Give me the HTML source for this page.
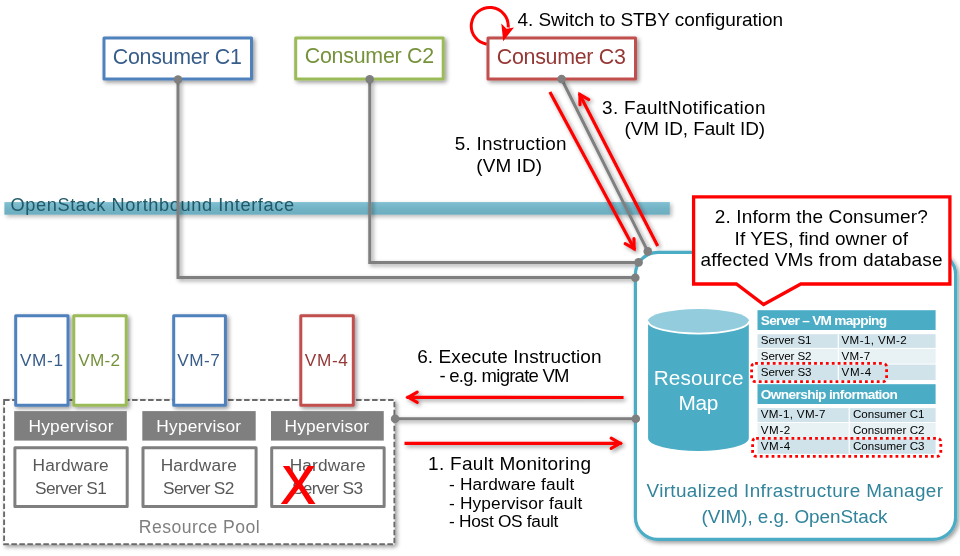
<!DOCTYPE html>
<html><head><meta charset="utf-8"><style>
html,body{margin:0;padding:0;background:#fff;width:960px;height:556px;overflow:hidden}
svg{display:block;font-family:"Liberation Sans", sans-serif;will-change:transform}
</style></head><body>
<svg width="960" height="556" viewBox="0 0 960 556">
<rect width="960" height="556" fill="#fff"/>
<defs>
<filter id="sh" x="-20%" y="-20%" width="140%" height="160%">
  <feGaussianBlur in="SourceAlpha" stdDeviation="2.2"/>
  <feOffset dx="1.6" dy="2.2" result="ob"/>
  <feComponentTransfer><feFuncA type="linear" slope="0.4"/></feComponentTransfer>
  <feMerge><feMergeNode/><feMergeNode in="SourceGraphic"/></feMerge>
</filter>
<filter id="sh2" x="-5%" y="-50%" width="110%" height="250%">
  <feGaussianBlur in="SourceAlpha" stdDeviation="2.2"/>
  <feOffset dx="1.6" dy="2.4" result="ob"/>
  <feComponentTransfer><feFuncA type="linear" slope="0.28"/></feComponentTransfer>
  <feMerge><feMergeNode/><feMergeNode in="SourceGraphic"/></feMerge>
</filter>
<linearGradient id="band" x1="0" y1="0" x2="0" y2="1">
  <stop offset="0" stop-color="#80c0d2"/>
  <stop offset="0.5" stop-color="#72b3c5"/>
  <stop offset="1" stop-color="#6caec0"/>
</linearGradient>
</defs>
<rect x="4.4" y="202.1" width="665.4" height="12.6" fill="url(#band)" filter="url(#sh2)"/>
<text x="10.5" y="210.6" font-size="18.2" fill="#215968" textLength="283.5" lengthAdjust="spacing">OpenStack Northbound Interface</text>
<g filter="url(#sh)" fill="none" stroke="#7f7f7f" stroke-width="3"><path d="M178 79.5 V277.6 H635.3"/><path d="M369.75 79.3 V262.5 H638.6"/><path d="M561.6 79 L647.8 251.4"/><path d="M395.1 418.7 H635.6"/></g>
<rect x="635.4" y="252.4" width="320.2" height="287" rx="22.5" ry="22.5" fill="#fff" stroke="#4bacc6" stroke-width="3.2" filter="url(#sh)"/>
<path d="M486.8 44.2 A18.5 18.5 0 1 1 508.2 27.5" fill="none" stroke="#ff0000" stroke-width="3"/>
<rect x="104" y="38" width="147.5" height="41" fill="#fff" stroke="#4f81bd" stroke-width="3" stroke-linejoin="round" filter="url(#sh)"/>
<text x="112.8" y="63.7" font-size="21.4" fill="#385d8a" textLength="129.0" lengthAdjust="spacing">Consumer C1</text>
<rect x="295.7" y="38" width="147.5" height="41" fill="#fff" stroke="#9bbb59" stroke-width="3" stroke-linejoin="round" filter="url(#sh)"/>
<text x="304.7" y="63.4" font-size="21.4" fill="#76923c" textLength="129.5" lengthAdjust="spacing">Consumer C2</text>
<rect x="488" y="38" width="147.5" height="41" fill="#fff" stroke="#c0504d" stroke-width="3" stroke-linejoin="round" filter="url(#sh)"/>
<text x="496.8" y="63.5" font-size="21.4" fill="#953735" textLength="129.0" lengthAdjust="spacing">Consumer C3</text>
<polygon points="503.2,41.2 501.3,23.6 506.5,28.8 514,27.4" fill="#ff0000"/>
<text x="517.5" y="25.6" font-size="19" fill="#000" textLength="265.5" lengthAdjust="spacing">4. Switch to STBY configuration</text>
<text x="602" y="113.8" font-size="18.9" fill="#000" textLength="163.5" lengthAdjust="spacing">3. FaultNotification</text>
<text x="624.5" y="135.2" font-size="18.9" fill="#000" textLength="140.5" lengthAdjust="spacing">(VM ID, Fault ID)</text>
<text x="454.7" y="150.1" font-size="18.9" fill="#000" textLength="111.8" lengthAdjust="spacing">5. Instruction</text>
<text x="476.3" y="171.7" font-size="18.9" fill="#000" textLength="65.7" lengthAdjust="spacing">(VM ID)</text>
<g filter="url(#sh)"><line x1="549.9" y1="92.1" x2="634.8" y2="249.8" stroke="#ff0000" stroke-width="3.2"/><polyline points="625.18,243.7 634.07,248.66 633.94,238.48" fill="none" stroke="#ff0000" stroke-width="3.2" stroke-linecap="round" stroke-linejoin="miter" stroke-miterlimit="10"/><line x1="657.7" y1="246" x2="579.2" y2="93.5" stroke="#ff0000" stroke-width="3.2"/><polyline points="588.78,99.56 579.92,94.55 579.99,104.73" fill="none" stroke="#ff0000" stroke-width="3.2" stroke-linecap="round" stroke-linejoin="miter" stroke-miterlimit="10"/></g>
<path d="M693.6 196.8 H949.9 V284 H800.8 L763.6 304.5 L736.4 284 H693.6 Z" fill="#fff" stroke="#ff0000" stroke-width="3.3" stroke-linejoin="miter"/>
<text x="714.8" y="222.9" font-size="19" fill="#000" textLength="213.0" lengthAdjust="spacing">2. Inform the Consumer?</text>
<text x="734.6" y="244.6" font-size="19" fill="#000" textLength="173.4" lengthAdjust="spacing">If YES, find owner of</text>
<text x="700.5" y="266" font-size="19" fill="#000" textLength="242.0" lengthAdjust="spacing">affected VMs from database</text>
<rect x="4.1" y="400" width="390.3" height="144.2" fill="#fff" stroke="#6a6a6a" stroke-width="1.9" stroke-dasharray="5.5 2.5" filter="url(#sh)"/>
<rect x="15.7" y="315.8" width="52.3" height="89.5" fill="#fff" stroke="#4f81bd" stroke-width="3" stroke-linejoin="round" filter="url(#sh)"/>
<text x="20" y="366" font-size="17.2" fill="#385d8a" textLength="43" lengthAdjust="spacing">VM-1</text>
<rect x="73.8" y="315.8" width="52.4" height="89.5" fill="#fff" stroke="#9bbb59" stroke-width="3" stroke-linejoin="round" filter="url(#sh)"/>
<text x="78.3" y="366" font-size="17.2" fill="#76923c" textLength="41.7" lengthAdjust="spacing">VM-2</text>
<rect x="173.7" y="315.8" width="51.7" height="89.5" fill="#fff" stroke="#4f81bd" stroke-width="3" stroke-linejoin="round" filter="url(#sh)"/>
<text x="177.2" y="366" font-size="17.2" fill="#385d8a" textLength="42.6" lengthAdjust="spacing">VM-7</text>
<rect x="300.8" y="315.8" width="52.5" height="89.5" fill="#fff" stroke="#c0504d" stroke-width="3" stroke-linejoin="round" filter="url(#sh)"/>
<text x="304.8" y="366" font-size="17.2" fill="#953735" textLength="43.1" lengthAdjust="spacing">VM-4</text>
<rect x="14.2" y="411.1" width="112.6" height="29.5" fill="#7f7f7f"/>
<text x="28.4" y="432" font-size="17.3" fill="#fff" textLength="85.0" lengthAdjust="spacing">Hypervisor</text>
<rect x="14.9" y="447.7" width="112.3" height="58.8" fill="#fff" stroke="#7f7f7f" stroke-width="3" stroke-linejoin="round"/>
<text x="32.5" y="470.8" font-size="17.3" fill="#595959" textLength="76.2" lengthAdjust="spacing">Hardware</text>
<text x="35" y="493.8" font-size="17.3" fill="#595959" textLength="71.8" lengthAdjust="spacing">Server S1</text>
<rect x="142.3" y="411.1" width="113.4" height="29.5" fill="#7f7f7f"/>
<text x="156.3" y="432" font-size="17.3" fill="#fff" textLength="84.7" lengthAdjust="spacing">Hypervisor</text>
<rect x="143.0" y="447.7" width="113.1" height="58.8" fill="#fff" stroke="#7f7f7f" stroke-width="3" stroke-linejoin="round"/>
<text x="160.7" y="470.8" font-size="17.3" fill="#595959" textLength="76.1" lengthAdjust="spacing">Hardware</text>
<text x="163.1" y="493.8" font-size="17.3" fill="#595959" textLength="71.2" lengthAdjust="spacing">Server S2</text>
<rect x="271" y="411.1" width="112.75" height="29.5" fill="#7f7f7f"/>
<text x="284.5" y="432" font-size="17.3" fill="#fff" textLength="84.5" lengthAdjust="spacing">Hypervisor</text>
<rect x="271.7" y="447.7" width="112.45" height="58.8" fill="#fff" stroke="#7f7f7f" stroke-width="3" stroke-linejoin="round"/>
<text x="289.7" y="470.8" font-size="17.3" fill="#595959" textLength="75.8" lengthAdjust="spacing">Hardware</text>
<text x="292" y="493.8" font-size="17.3" fill="#595959" textLength="71" lengthAdjust="spacing">Server S3</text>
<path d="M282.9 465.9 L289.4 465.9 L298.6 480.4 L307.8 465.9 L314.6 465.9 L302.2 484.3 L315.5 503.9 L308.7 503.9 L298.8 488.6 L287.1 503.9 L280.8 503.9 L295.3 484.3 Z" fill="#ff0000"/>
<text x="138.7" y="533.3" font-size="17.6" fill="#7f7f7f" textLength="121.0" lengthAdjust="spacing">Resource Pool</text>
<g filter="url(#sh)"><line x1="623.6" y1="397.5" x2="406.5" y2="397.4" stroke="#ff0000" stroke-width="3.2"/><polyline points="417.18,392.15 408.39,397.29 417.22,402.35" fill="none" stroke="#ff0000" stroke-width="3.2" stroke-linecap="round" stroke-linejoin="miter" stroke-miterlimit="10"/><line x1="404.5" y1="443.3" x2="621.8" y2="443.3" stroke="#ff0000" stroke-width="3.2"/><polyline points="611.2,448.4 620.01,443.3 611.2,438.2" fill="none" stroke="#ff0000" stroke-width="3.2" stroke-linecap="round" stroke-linejoin="miter" stroke-miterlimit="10"/></g>
<text x="417.2" y="363" font-size="19" fill="#000" textLength="184.4" lengthAdjust="spacing">6. Execute Instruction</text>
<text x="439.5" y="382.2" font-size="18.5" fill="#000" textLength="130.0" lengthAdjust="spacing">- e.g. migrate VM</text>
<text x="428" y="470.1" font-size="19" fill="#000" textLength="163" lengthAdjust="spacing">1. Fault Monitoring</text>
<text x="449.1" y="489.5" font-size="17.3" fill="#000" textLength="125.2" lengthAdjust="spacing">- Hardware fault</text>
<text x="449.1" y="508.7" font-size="17.3" fill="#000" textLength="133.1" lengthAdjust="spacing">- Hypervisor fault</text>
<text x="449.1" y="527.1" font-size="17.3" fill="#000" textLength="109.2" lengthAdjust="spacing">- Host OS fault</text>
<g><path d="M648.1 321.3 V438.3 A50.35 12.7 0 0 0 748.8 438.3 V321.3 Z" fill="#4bacc6"/><ellipse cx="698.45" cy="321.3" rx="50.6" ry="12.3" fill="#93cddd"/><path d="M647.85 321.3 A50.6 12.3 0 0 0 749.05 321.3" fill="none" stroke="#fff" stroke-width="1.8"/></g>
<text x="653.7" y="384.6" font-size="20.8" fill="#fff" textLength="90.0" lengthAdjust="spacing">Resource</text>
<text x="678.6" y="409.8" font-size="20.8" fill="#fff" textLength="39.7" lengthAdjust="spacing">Map</text>
<rect x="757.5" y="310.2" width="178.1" height="19.8" fill="#4bacc6"/>
<text x="760.8" y="324.8" font-size="13.7" fill="#fff" font-weight="bold" textLength="126.2" lengthAdjust="spacing">Server – VM mapping</text>
<rect x="757.5" y="334.2" width="178.1" height="13.7" fill="#d0e3ea"/>
<rect x="757.5" y="348.9" width="178.1" height="14.7" fill="#e8f1f4"/>
<rect x="757.5" y="364.6" width="178.1" height="15.4" fill="#d0e3ea"/>
<line x1="838.3" y1="334.2" x2="838.3" y2="380.0" stroke="#fff" stroke-width="1.2"/>
<text x="760.8" y="344" font-size="11.6" fill="#000" textLength="50.7" lengthAdjust="spacing">Server S1</text>
<text x="841.5" y="344" font-size="11.6" fill="#000" textLength="65.3" lengthAdjust="spacing">VM-1, VM-2</text>
<text x="760.8" y="359.6" font-size="11.6" fill="#000" textLength="50.7" lengthAdjust="spacing">Server S2</text>
<text x="841.5" y="359.6" font-size="11.6" fill="#000" textLength="28.8" lengthAdjust="spacing">VM-7</text>
<text x="760.8" y="376.1" font-size="11.6" fill="#000" textLength="50.7" lengthAdjust="spacing">Server S3</text>
<text x="841.5" y="376.1" font-size="11.6" fill="#000" textLength="29.8" lengthAdjust="spacing">VM-4</text>
<rect x="757.5" y="384.2" width="178.1" height="19.8" fill="#4bacc6"/>
<text x="760.8" y="398.8" font-size="13.7" fill="#fff" font-weight="bold" textLength="137.0" lengthAdjust="spacing">Ownership information</text>
<rect x="757.5" y="408.1" width="178.1" height="13.9" fill="#d0e3ea"/>
<rect x="757.5" y="423.0" width="178.1" height="14.7" fill="#e8f1f4"/>
<rect x="757.5" y="438.7" width="178.1" height="15.1" fill="#d0e3ea"/>
<line x1="849.2" y1="408.1" x2="849.2" y2="453.8" stroke="#fff" stroke-width="1.2"/>
<text x="760.8" y="418.1" font-size="11.6" fill="#000" textLength="64.7" lengthAdjust="spacing">VM-1, VM-7</text>
<text x="852.9" y="418.1" font-size="11.6" fill="#000" textLength="71.6" lengthAdjust="spacing">Consumer C1</text>
<text x="760.8" y="433.75" font-size="11.6" fill="#000" textLength="29.5" lengthAdjust="spacing">VM-2</text>
<text x="852.9" y="433.75" font-size="11.6" fill="#000" textLength="71.6" lengthAdjust="spacing">Consumer C2</text>
<text x="760.8" y="450.3" font-size="11.6" fill="#000" textLength="29.5" lengthAdjust="spacing">VM-4</text>
<text x="852.9" y="450.3" font-size="11.6" fill="#000" textLength="71.6" lengthAdjust="spacing">Consumer C3</text>
<rect x="751.6" y="363.4" width="135" height="18.2" rx="3.5" fill="none" stroke="#ff0000" stroke-width="2.8" stroke-dasharray="2.8 3.1"/>
<rect x="752.6" y="438.3" width="188.2" height="18" rx="3.5" fill="none" stroke="#ff0000" stroke-width="2.8" stroke-dasharray="2.8 3.1"/>
<text x="646.5" y="496.7" font-size="18.9" fill="#31849b" textLength="296.5" lengthAdjust="spacing">Virtualized Infrastructure Manager</text>
<text x="701.5" y="522.5" font-size="18.9" fill="#31849b" textLength="186.0" lengthAdjust="spacing">(VIM), e.g. OpenStack</text>
<g fill="#7f7f7f"><circle cx="178" cy="79.5" r="4.3"/><circle cx="369.7" cy="79.3" r="4.3"/><circle cx="561.6" cy="79" r="4.3"/><circle cx="635.3" cy="277.8" r="4.3"/><circle cx="638.6" cy="262.4" r="4.3"/><circle cx="647.8" cy="251.4" r="4.3"/><circle cx="395.1" cy="418.7" r="4.3"/><circle cx="635.8" cy="418.8" r="4.3"/></g>
</svg>
</body></html>
